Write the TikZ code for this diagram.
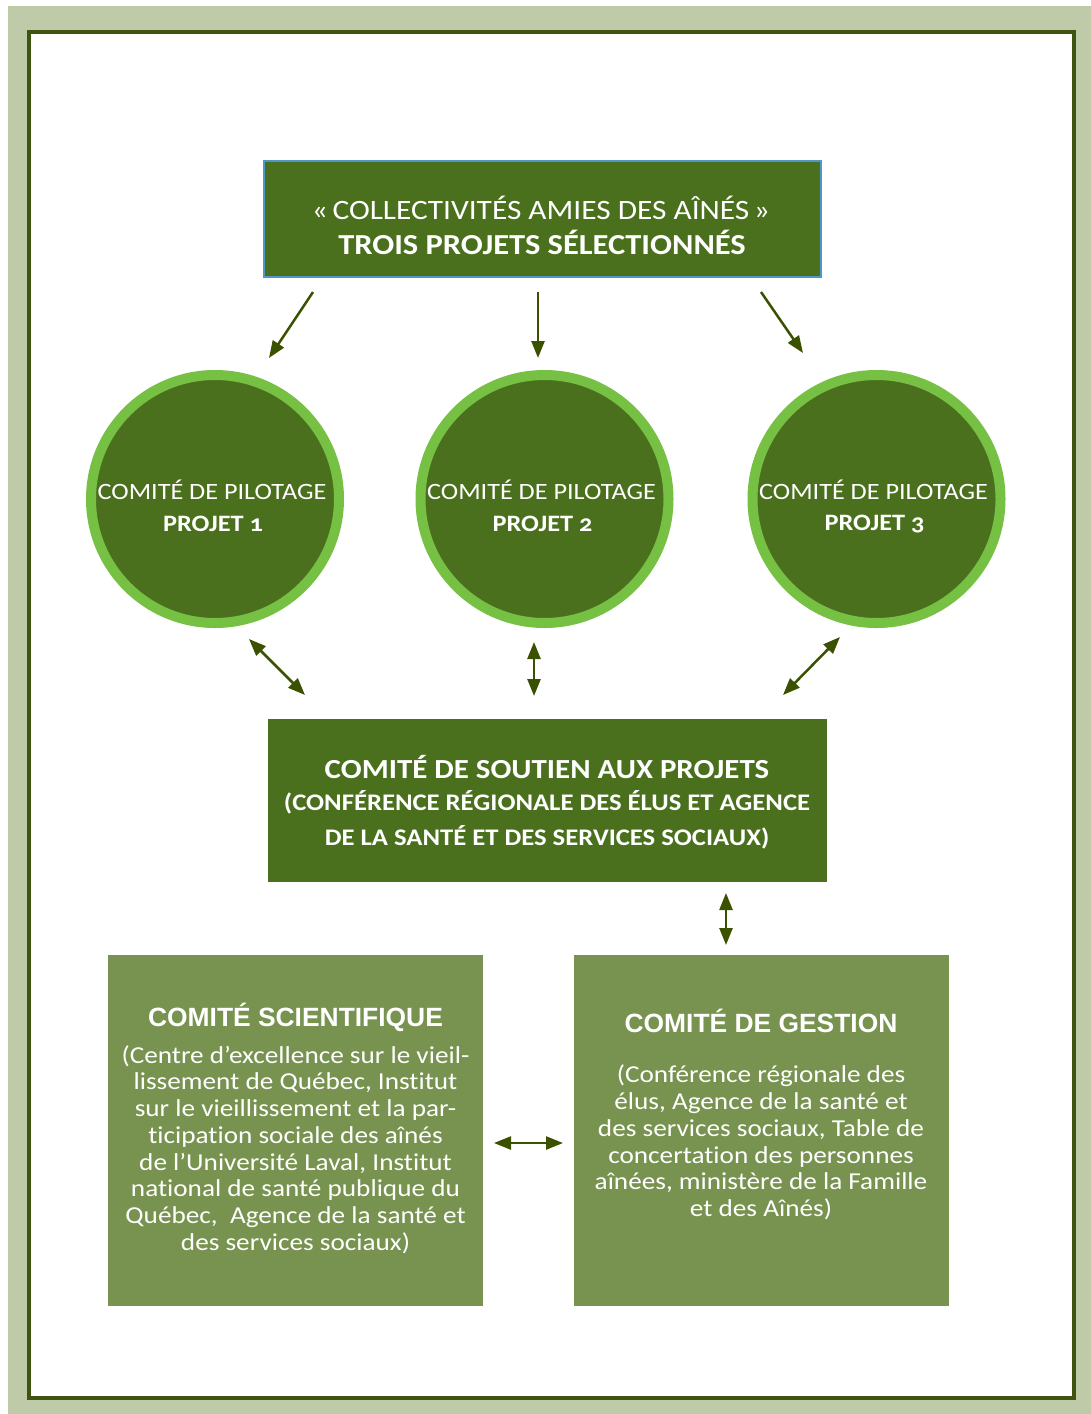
\documentclass[tikz,border=0pt]{standalone}
\usepackage{fontspec}
\setmainfont{Carlito}[Numbers=OldStyle, FakeStretch=1.12, Ligatures=NoCommon]
\newfontfamily\arialfont{Liberation Sans}
\usetikzlibrary{arrows.meta}
\definecolor{framegreen}{HTML}{BFCBA8}
\definecolor{borderdark}{HTML}{3E5410}
\definecolor{dkgreen}{HTML}{4A701D}
\definecolor{ltgreen}{HTML}{76C043}
\definecolor{midgreen}{HTML}{77934F}
\definecolor{titleborder}{HTML}{4F97C7}
\definecolor{arrowc}{HTML}{3A5200}
\tikzset{
  circnode/.style={circle, draw=ltgreen, line width=10pt, fill=dkgreen, minimum size=248pt, inner sep=0pt},
  wtext/.style={text=white, inner sep=0pt, align=center},
  conn/.style={draw=arrowc, line width=2.5pt, -{Triangle[length=17pt,width=13pt]}},
  dconn/.style={draw=arrowc, line width=2.5pt, {Triangle[length=17pt,width=13pt]}-{Triangle[length=17pt,width=13pt]}},
  boxgreen/.style={fill=midgreen, minimum width=375pt, minimum height=351pt, inner sep=0pt}
}
\begin{document}
\begin{tikzpicture}[x=1pt,y=-1pt]
\useasboundingbox (0,0) rectangle (1091,1414);
\fill[framegreen] (8,6) rectangle (1091,1414);
\draw[borderdark, line width=4pt, fill=white] (29,32) rectangle (1074,1398);

% title
\node[draw=titleborder, line width=2pt, fill=dkgreen, minimum width=557pt, minimum height=116pt, inner sep=0pt] (title) at (542.5,219) {};
\node[wtext, font=\fontsize{28}{32}\selectfont] (titleA) at (541,208) {«\,COLLECTIVITÉS AMIES DES AÎNÉS\,»};
\node[wtext, font=\fontsize{29}{32}\selectfont\bfseries] (titleB) at (542,242) {TROIS PROJETS SÉLECTIONNÉS};

% circles
\foreach \i/\x in {1/215,2/544.5,3/876.5}{
  \node[circnode] (c\i) at (\x,499) {};
  \node[wtext, font=\fontsize{23.4}{26}\selectfont] (c\i a) at (\x-3,490) {COMITÉ DE PILOTAGE};
  \node[wtext, font=\fontsize{23.5}{26}\selectfont\bfseries] (c\i b) at (\x-2,524) {PROJET \i};
}

% mid box
\node[fill=dkgreen, minimum width=559pt, minimum height=163pt, inner sep=0pt] (mid) at (547.5,800.5) {};
\node[wtext, font=\fontsize{27.6}{30}\selectfont\bfseries] (midA) at (547,767) {COMITÉ DE SOUTIEN AUX PROJETS};
\node[wtext, font=\fontsize{23.8}{35}\selectfont\bfseries] (midB) at (547,819.5) {(CONFÉRENCE RÉGIONALE DES ÉLUS ET AGENCE\\DE LA SANTÉ ET DES SERVICES SOCIAUX)};

% bottom boxes
\node[boxgreen] (sci) at (295.5,1130.5) {};
\node[boxgreen] (gest) at (761,1130.5) {};
\node[wtext, font=\arialfont\fontsize{26.4}{30}\selectfont\bfseries] (sciT) at (295.5,1017) {COMITÉ SCIENTIFIQUE};
\node[wtext, font=\fontsize{24.3}{26.75}\selectfont] (sciB) at (295.5,1149.5) {(Centre d’excellence sur le vieil-\\lissement de Québec, Institut\\sur le vieillissement et la par-\\ticipation sociale des aînés\\de l’Université Laval, Institut\\national de santé publique du\\Québec,\ \ Agence de la santé et\\des services sociaux)};
\node[wtext, font=\arialfont\fontsize{26.4}{30}\selectfont\bfseries] (gestT) at (761,1021) {COMITÉ DE GESTION};
\node[wtext, font=\fontsize{24.3}{26.75}\selectfont] (gestB) at (761,1142.5) {(Conférence régionale des\\élus, Agence de la santé et\\des services sociaux, Table de\\concertation des personnes\\aînées, ministère de la Famille\\et des Aînés)};

% arrow endpoints
\coordinate (t1) at (313,292); \coordinate (h1) at (269,358);
\coordinate (t2) at (538,292); \coordinate (h2) at (538,358);
\coordinate (t3) at (761,292); \coordinate (h3) at (803,353);
\coordinate (d1a) at (249,639); \coordinate (d1b) at (305,695);
\coordinate (d2a) at (534,642); \coordinate (d2b) at (534,696);
\coordinate (d3a) at (840,637); \coordinate (d3b) at (783,695);
\coordinate (d4a) at (726,893); \coordinate (d4b) at (726,945);
\coordinate (d5a) at (494,1143); \coordinate (d5b) at (563,1143);

\draw[conn] (t1) -- (h1);
\draw[conn] (t2) -- (h2);
\draw[conn] (t3) -- (h3);
\draw[dconn] (d1a) -- (d1b);
\draw[dconn] (d2a) -- (d2b);
\draw[dconn] (d3a) -- (d3b);
\draw[dconn] (d4a) -- (d4b);
\draw[dconn] (d5a) -- (d5b);
\end{tikzpicture}
\end{document}
